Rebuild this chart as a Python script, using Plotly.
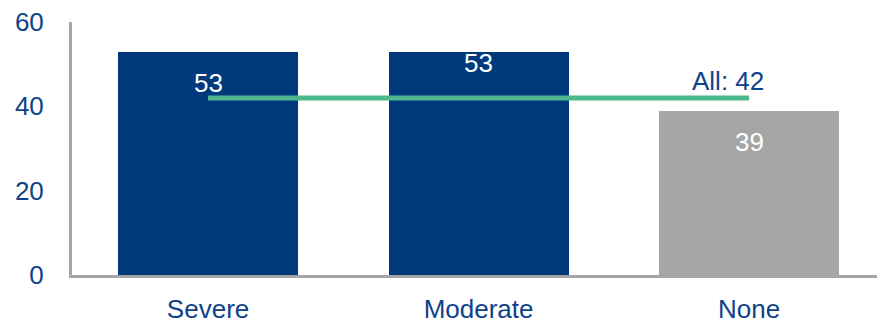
import plotly.graph_objects as go

categories = ["Severe", "Moderate", "None"]
values = [53, 53, 39]
bar_colors = ["#003A7D", "#003A7D", "#A6A6A6"]
label_shifts = [-31, -11, -31]
overall_value = 42
overall_label = "All: 42"
y_ticks = [0, 20, 40, 60]

FONT = "Liberation Sans Narrow, Arial Narrow, Liberation Sans, sans-serif"
TEXT_BLUE = "#0E428A"
AXIS_GRAY = "#A6A6A6"
FS = 26

fig = go.Figure()
fig.add_trace(go.Bar(
    x=categories, y=values, marker=dict(color=bar_colors, line=dict(width=0)),
    width=0.665, showlegend=False, hoverinfo="skip",
))
fig.add_trace(go.Scatter(
    x=[categories[0], categories[-1]], y=[overall_value, overall_value],
    mode="lines", line=dict(color="#4DB88E", width=5),
    showlegend=False, hoverinfo="skip",
))

for c, v, s in zip(categories, values, label_shifts):
    fig.add_annotation(x=c, y=v, text=str(v), showarrow=False, yshift=s,
                       font=dict(family=FONT, size=FS, color="white"))
fig.add_annotation(x=categories[-1], y=overall_value, text=overall_label,
                   showarrow=False, xshift=-21, yshift=17,
                   font=dict(family=FONT, size=FS, color=TEXT_BLUE))

fig.update_layout(
    width=877, height=324,
    margin=dict(l=72, r=0, t=22, b=44),
    plot_bgcolor="white", paper_bgcolor="white",
    font=dict(family=FONT, size=FS, color=TEXT_BLUE),
    xaxis=dict(range=[-0.503, 2.473], showgrid=False, zeroline=False,
               showline=True, linecolor=AXIS_GRAY, linewidth=3,
               ticks="outside", ticklen=9, tickcolor="rgba(0,0,0,0)",
               tickfont=dict(family=FONT, size=FS, color=TEXT_BLUE)),
    yaxis=dict(range=[0, 60], tickvals=y_ticks, showgrid=False, zeroline=False,
               showline=True, linecolor=AXIS_GRAY, linewidth=3,
               ticks="outside", ticklen=20, tickcolor="rgba(0,0,0,0)",
               tickfont=dict(family=FONT, size=FS, color=TEXT_BLUE)),
    bargap=0,
)

fig.write_html("out.html")
